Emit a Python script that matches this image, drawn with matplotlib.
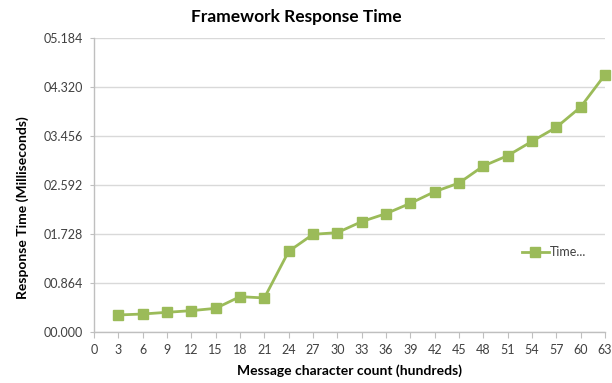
import matplotlib
matplotlib.use("Agg")
import matplotlib.pyplot as plt
from matplotlib.ticker import FuncFormatter

plt.rcParams['font.family'] = ['Lato', 'DejaVu Sans']

# Message size (hundreds of characters) and measured response time (ms)
msg_hundreds = [3, 6, 9, 12, 15, 18, 21, 24, 27, 30, 33, 36, 39, 42, 45, 48, 51, 54, 57, 60, 63]
response_ms = [0.300, 0.317, 0.347, 0.376, 0.417, 0.623, 0.600, 1.422, 1.722, 1.752, 1.946,
               2.087, 2.269, 2.474, 2.627, 2.927, 3.109, 3.362, 3.609, 3.967, 4.537]
series_name = "Time..."
y_ticks = [0.000, 0.864, 1.728, 2.592, 3.456, 4.320, 5.184]
x_ticks = list(range(0, 64, 3))

green = '#9BBB59'
grid_gray = '#D9D9D9'
axis_gray = '#BFBFBF'
text_col = '#404040'

fig = plt.figure(figsize=(6.12, 3.83), dpi=100)
ax = fig.add_axes([0.1536, 0.1332, 0.835, 0.7676])

ax.plot(msg_hundreds, response_ms, color=green, linewidth=2.0, marker='s',
        markersize=7.8, markerfacecolor=green, markeredgecolor=green,
        label=series_name, zorder=3, clip_on=False)

ax.set_xlim(0, 63)
ax.set_ylim(0, 5.184)
ax.set_xticks(x_ticks)
ax.set_yticks(y_ticks)
ax.yaxis.set_major_formatter(FuncFormatter(lambda v, p: f"{v:06.3f}"))

ax.yaxis.grid(True, color=grid_gray, linewidth=1.0)
ax.set_axisbelow(True)
for s in ('top', 'right'):
    ax.spines[s].set_visible(False)
for s in ('left', 'bottom'):
    ax.spines[s].set_color(axis_gray)
    ax.spines[s].set_linewidth(1.0)

ax.tick_params(axis='x', direction='out', length=4, color=axis_gray,
               labelsize=9, labelcolor=text_col, pad=5)
ax.tick_params(axis='y', direction='out', length=3, color=axis_gray,
               labelsize=9, labelcolor=text_col, pad=5)

fig.text(296 / 612, 1 - 17 / 383, "Framework Response Time", fontsize=12.5,
         fontweight='bold', color='black', ha='center', va='center')
ax.set_xlabel("Message character count (hundreds)", fontsize=10,
              fontweight='bold', color='black')
ax.set_ylabel("Response Time (Milliseconds)", fontsize=10,
              fontweight='bold', color='black')
ax.xaxis.set_label_coords(0.5, -0.109)
ax.yaxis.set_label_coords(-0.127, 0.422)

leg = ax.legend(loc='center left', bbox_to_anchor=(0.815, 0.272), frameon=False,
                fontsize=9, handlelength=2.16, handletextpad=0.1,
                labelcolor=text_col)

fig.savefig("out.png", dpi=100)
